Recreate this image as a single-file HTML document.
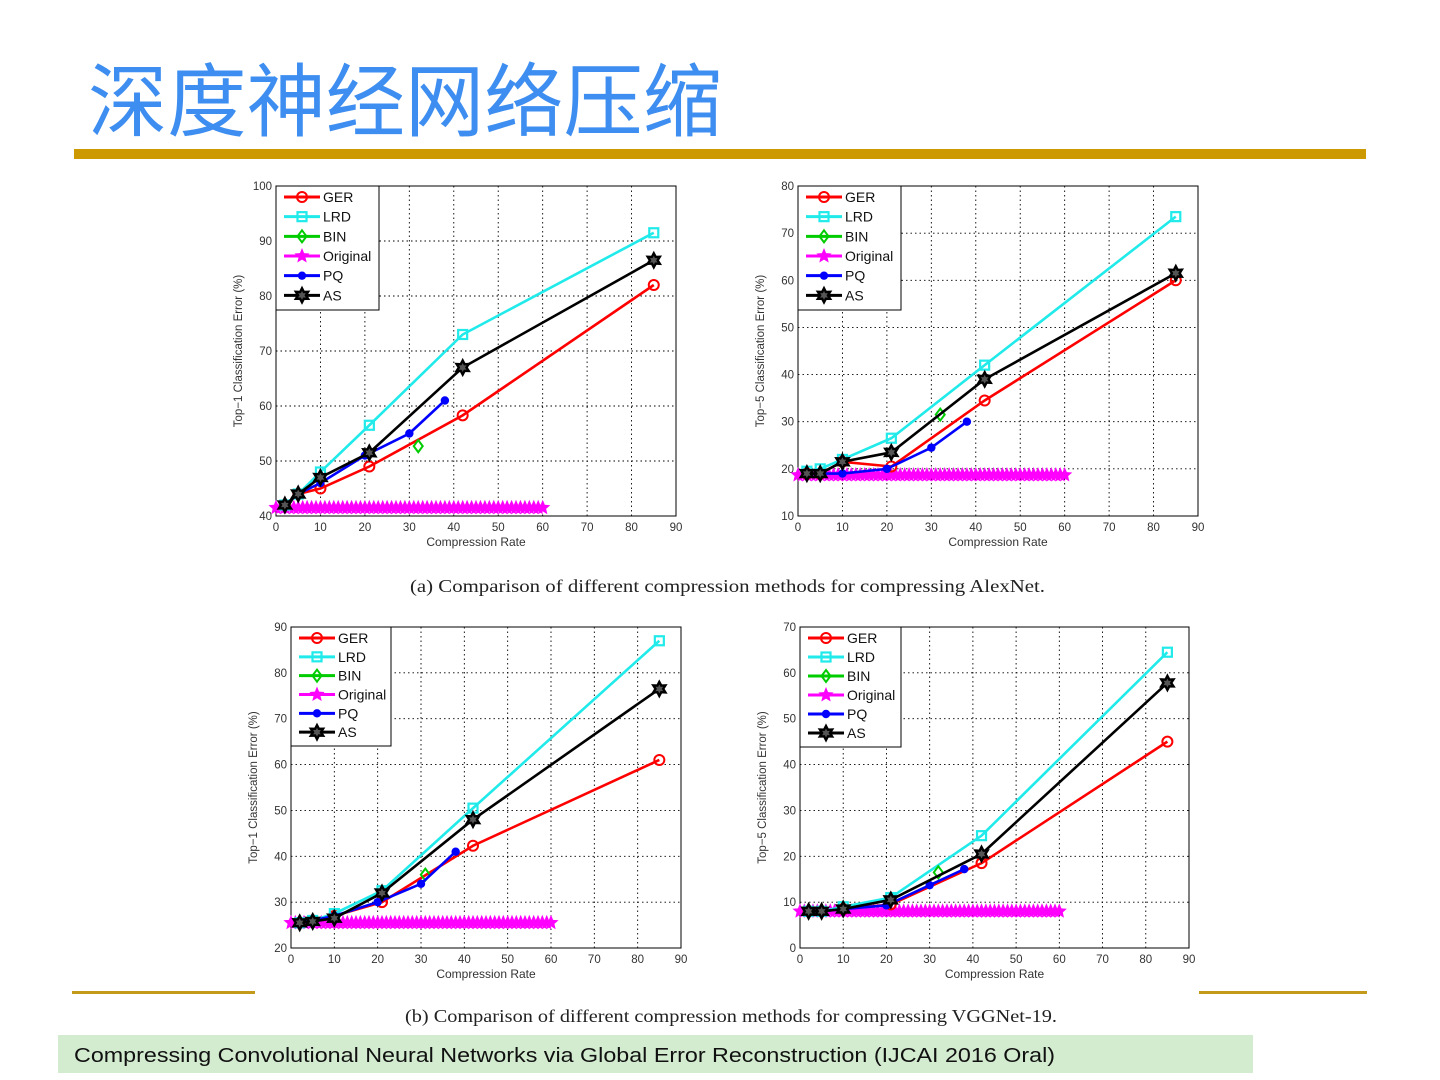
<!DOCTYPE html>
<html><head><meta charset="utf-8"><style>
html,body{margin:0;padding:0;background:#fff;width:1440px;height:1080px;overflow:hidden}
svg{display:block}
</style></head><body>
<svg id="s" width="1440" height="1080" xmlns="http://www.w3.org/2000/svg" font-family="Liberation Sans, sans-serif">
<rect width="1440" height="1080" fill="#fff"/>
<text x="88" y="130" font-size="80" fill="#3d8ef0" font-family="Liberation Sans, Noto Sans CJK SC, sans-serif" textLength="634" lengthAdjust="spacingAndGlyphs">深度神经网络压缩</text>
<rect x="74" y="149" width="1292" height="10" fill="#cc9900"/>
<rect x="72" y="991" width="183" height="3" fill="#c49a1a"/>
<rect x="1199" y="991" width="168" height="3" fill="#c49a1a"/>
<text x="410" y="592" font-size="18" font-family="Liberation Serif, serif" fill="#222" textLength="635" lengthAdjust="spacingAndGlyphs">(a) Comparison of different compression methods for compressing AlexNet.</text>
<text x="405" y="1022" font-size="18" font-family="Liberation Serif, serif" fill="#222" textLength="652" lengthAdjust="spacingAndGlyphs">(b) Comparison of different compression methods for compressing VGGNet-19.</text>
<rect x="58" y="1035" width="1195" height="38" fill="#d3ecd0"/>
<text x="74" y="1062" font-size="20" fill="#111" textLength="981" lengthAdjust="spacingAndGlyphs">Compressing Convolutional Neural Networks via Global Error Reconstruction (IJCAI 2016 Oral)</text>
<g id="charts"></g>
</svg>
<script>
const charts=[
{x0:276,x1:676,y0:186,y1:516,ymin:40,ymax:100,ystep:10,ylab:"Top\u22121 Classification Error (%)",lx:276,ly:186,lw:103,lh:124,
 GER:[[2,42],[5,44],[10,45],[21,49],[42,58.3],[85,82]],LRD:[[2,42],[5,44],[10,48],[21,56.5],[42,73],[85,91.5]],BIN:[[32,52.7]],
 PQ:[[2,42],[5,44],[10,46],[20,51],[30,55],[38,61]],AS:[[2,42],[5,44],[10,47],[21,51.5],[42,67],[85,86.5]],orig:41.5},
{x0:798,x1:1198,y0:186,y1:516,ymin:10,ymax:80,ystep:10,ylab:"Top\u22125 Classification Error (%)",lx:798,ly:186,lw:103,lh:124,
 GER:[[2,19],[5,19],[10,21.5],[21,20.5],[42,34.5],[85,60]],LRD:[[2,19.5],[5,20],[10,22],[21,26.5],[42,42],[85,73.5]],BIN:[[32,31.5]],
 PQ:[[2,19],[5,19],[10,19],[20,20],[30,24.5],[38,30]],AS:[[2,19],[5,19],[10,21.5],[21,23.5],[42,39],[85,61.5]],orig:18.7},
{x0:291,x1:681,y0:627,y1:948,ymin:20,ymax:90,ystep:10,ylab:"Top\u22121 Classification Error (%)",lx:291,ly:627,lw:100,lh:119,
 GER:[[2,25.5],[5,26],[10,27],[21,30],[42,42.3],[85,61]],LRD:[[2,25.5],[5,26],[10,27.5],[21,32.5],[42,50.5],[85,87]],BIN:[[31,36]],
 PQ:[[2,25.5],[5,26],[10,27],[20,30],[30,34],[38,41]],AS:[[2,25.5],[5,25.8],[10,26.5],[21,32],[42,48],[85,76.5]],orig:25.5},
{x0:800,x1:1189,y0:627,y1:948,ymin:0,ymax:70,ystep:10,ylab:"Top\u22125 Classification Error (%)",lx:800,ly:627,lw:101,lh:120,
 GER:[[2,8],[5,8],[10,8.5],[21,9.5],[42,18.5],[85,45]],LRD:[[2,8],[5,8],[10,9],[21,11],[42,24.5],[85,64.5]],BIN:[[32,16.5]],
 PQ:[[2,8],[5,8],[10,8.5],[20,9.3],[30,13.7],[38,17.2]],AS:[[2,8],[5,8],[10,8.5],[21,10.5],[42,20.5],[85,57.8]],orig:8}
];
const col={GER:"#ff0000",LRD:"#20eaea",BIN:"#00cc00",Original:"#ff00ff",PQ:"#0000ff",AS:"#000000"};
function star(cx,cy,r){let p=[];for(let i=0;i<10;i++){const a=-Math.PI/2+i*Math.PI/5,rr=i%2?r*0.45:r;p.push((cx+rr*Math.cos(a)).toFixed(1)+","+(cy+rr*Math.sin(a)).toFixed(1));}return p.join(" ");}
function hex(cx,cy,r){let p=[];for(let i=0;i<12;i++){const a=-Math.PI/2+i*Math.PI/6,rr=i%2?r*0.55:r;p.push((cx+rr*Math.cos(a)).toFixed(1)+","+(cy+rr*Math.sin(a)).toFixed(1));}return p.join(" ");}
function marker(k,x,y){const c=col[k];
 if(k=="GER")return `<circle cx="${x}" cy="${y}" r="5" fill="none" stroke="${c}" stroke-width="2"/>`;
 if(k=="LRD")return `<rect x="${x-4.5}" y="${y-4.5}" width="9" height="9" fill="none" stroke="${c}" stroke-width="2.2"/>`;
 if(k=="BIN")return `<polygon points="${x},${y-6} ${x+4.5},${y} ${x},${y+6} ${x-4.5},${y}" fill="none" stroke="${c}" stroke-width="2"/>`;
 if(k=="PQ")return `<circle cx="${x}" cy="${y}" r="4.2" fill="${c}"/>`;
 if(k=="AS")return `<polygon points="${hex(x,y,7)}" fill="#555" stroke="${c}" stroke-width="2.4"/>`;
 if(k=="Original")return `<polygon points="${star(x,y,8)}" fill="${c}"/>`;}
let h="";
for(const c of charts){
 const X=v=>c.x0+(c.x1-c.x0)*v/90, Y=v=>c.y1-(c.y1-c.y0)*(v-c.ymin)/(c.ymax-c.ymin);
 h+=`<rect x="${c.x0}" y="${c.y0}" width="${c.x1-c.x0}" height="${c.y1-c.y0}" fill="#fff" stroke="#000" stroke-width="1"/>`;
 for(let v=10;v<90;v+=10)h+=`<line x1="${X(v)}" y1="${c.y0}" x2="${X(v)}" y2="${c.y1}" stroke="#000" stroke-width="0.9" stroke-dasharray="1.5,3"/>`;
 for(let v=c.ymin+c.ystep;v<c.ymax;v+=c.ystep)h+=`<line x1="${c.x0}" y1="${Y(v)}" x2="${c.x1}" y2="${Y(v)}" stroke="#000" stroke-width="0.9" stroke-dasharray="1.5,3"/>`;
 for(let v=0;v<=90;v+=10)h+=`<text x="${X(v)}" y="${c.y1+15}" font-size="11.5" text-anchor="middle" fill="#333">${v}</text>`;
 for(let v=c.ymin;v<=c.ymax;v+=c.ystep)h+=`<text x="${c.x0-4}" y="${Y(v)+4}" font-size="11.5" text-anchor="end" fill="#333">${v}</text>`;
 h+=`<text x="${(c.x0+c.x1)/2}" y="${c.y1+30}" font-size="12" text-anchor="middle" fill="#333">Compression Rate</text>`;
 const yc=(c.y0+c.y1)/2,xl=c.x0-34;
 h+=`<text x="${xl}" y="${yc}" font-size="11.5" text-anchor="middle" fill="#333" transform="rotate(-90 ${xl} ${yc})">${c.ylab}</text>`;
 h+=`<line x1="${X(0)}" y1="${Y(c.orig)}" x2="${X(60)}" y2="${Y(c.orig)}" stroke="${col.Original}" stroke-width="2.5"/>`;
 for(let v=0;v<=60;v+=1)h+=marker("Original",X(v),Y(c.orig));
 for(const k of ["GER","LRD","BIN","PQ","AS"]){
  const d=c[k];
  if(d.length>1)h+=`<polyline points="${d.map(p=>X(p[0])+","+Y(p[1])).join(" ")}" fill="none" stroke="${col[k]}" stroke-width="2.6"/>`;
  for(const p of d)h+=marker(k,X(p[0]),Y(p[1]));
 }
 h+=`<rect x="${c.lx}" y="${c.ly}" width="${c.lw}" height="${c.lh}" fill="#fff" stroke="#000" stroke-width="1"/>`;
 const names=["GER","LRD","BIN","Original","PQ","AS"];const step=(c.lh-6)/6;
 names.forEach((n,i)=>{const yy=c.ly+11+i*step;
  h+=`<line x1="${c.lx+8}" y1="${yy}" x2="${c.lx+44}" y2="${yy}" stroke="${col[n]}" stroke-width="3"/>`;
  h+=marker(n,c.lx+26,yy);
  h+=`<text x="${c.lx+47}" y="${yy+5}" font-size="14" fill="#111">${n}</text>`;});
}
document.getElementById("charts").innerHTML=h;
</script>
</body></html>
